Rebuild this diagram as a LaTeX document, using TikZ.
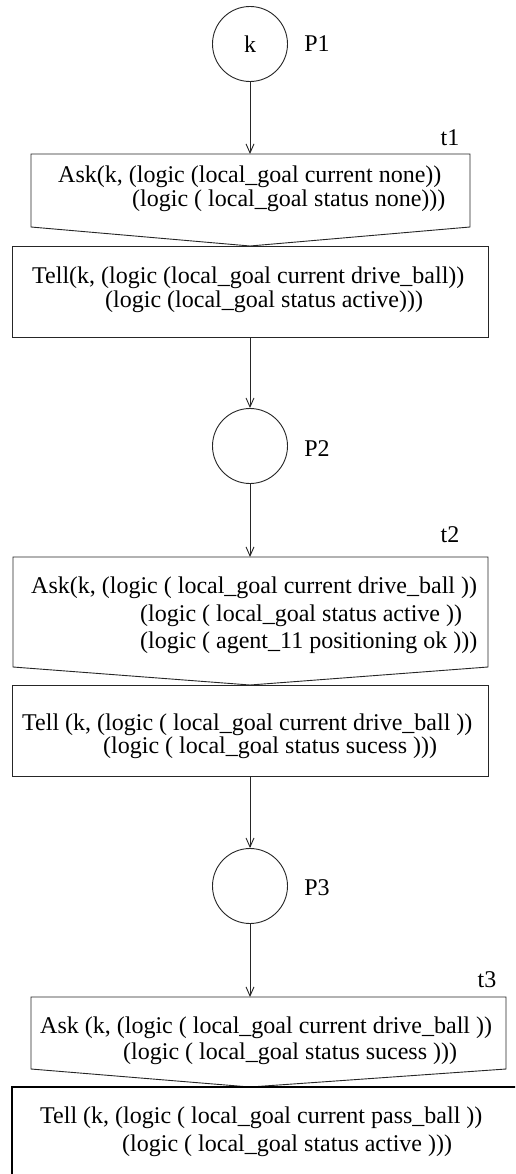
\documentclass[tikz,border=0pt]{standalone}
\usepackage{fontspec}
\setmainfont{Liberation Serif}
\usetikzlibrary{arrows.meta}
\begin{document}
\begin{tikzpicture}[x=1pt,y=-1pt,
  every node/.style={font=\fontsize{24}{28}\selectfont, inner sep=0pt},
  edge line/.style={draw=black!85, line width=0.9pt},
  place/.style={edge line, circle, minimum size=75pt},
  trans/.style={edge line, rectangle, minimum width=476pt, minimum height=91pt},
  arc/.style={edge line, -{Straight Barb[length=9pt,width=8pt]}},
  txt/.style={anchor=base west}]
\path[use as bounding box, clip] (0,0) rectangle (515,1174);
\fill[white] (0,0) rectangle (515,1174);

% P1 and t1
\node[place] (P1) at (250,44) {k};
\node (P1l) at (317,44) {P1};
\coordinate (a1nw) at (31,154);
\coordinate (a1ne) at (470,154);
\coordinate (a1sw) at (31,227);
\coordinate (a1se) at (470,227);
\coordinate (a1s) at (250,246);
\coordinate (a1n) at (250,154);
\draw[edge line] (a1nw) -- (a1ne) -- (a1se) -- (a1s) -- (a1sw) -- cycle;
\node (t1) at (450,138) {t1};
\node[txt] (a1l1) at (58,183) {Ask(k, (logic (local\_goal current none))};
\node[txt] (a1l2) at (132,207) {(logic ( local\_goal status none)))};
\node[trans] (T1) at (250,291.5) {};
\node[txt] (T1l1) at (32,283) {Tell(k, (logic (local\_goal current drive\_ball))};
\node[txt] (T1l2) at (105,307) {(logic (local\_goal status active)))};
\draw[arc] (P1) -- (a1n);

% P2 and t2
\node[place] (P2) at (250,446) {};
\node (P2l) at (317,449) {P2};
\draw[arc] (T1) -- (P2);
\coordinate (a2nw) at (13,557);
\coordinate (a2ne) at (488,557);
\coordinate (a2sw) at (13,667);
\coordinate (a2se) at (488,667);
\coordinate (a2s) at (250,685);
\coordinate (a2n) at (250,557);
\draw[edge line] (a2nw) -- (a2ne) -- (a2se) -- (a2s) -- (a2sw) -- cycle;
\draw[arc] (P2) -- (a2n);
\node (t2) at (450,535) {t2};
\node[txt] (a2l1) at (31,593) {Ask(k, (logic ( local\_goal current drive\_ball ))};
\node[txt] (a2l2) at (140,621) {(logic ( local\_goal status active ))};
\node[txt] (a2l3) at (140,648) {(logic ( agent\_11 positioning ok )))};
\node[trans] (T2) at (250,730.5) {};
\node[txt] (T2l1) at (22,730) {Tell (k, (logic ( local\_goal current drive\_ball ))};
\node[txt] (T2l2) at (103,753) {(logic ( local\_goal status sucess )))};

% P3 and t3
\node[place] (P3) at (250,886) {};
\node (P3l) at (317,888) {P3};
\draw[arc] (T2) -- (P3);
\coordinate (a3nw) at (31,997);
\coordinate (a3ne) at (506,997);
\coordinate (a3sw) at (31,1069);
\coordinate (a3se) at (506,1069);
\coordinate (a3s) at (250,1087);
\coordinate (a3n) at (250,997);
\draw[edge line] (a3nw) -- (a3ne) -- (a3se) -- (a3s) -- (a3sw) -- cycle;
\draw[arc] (P3) -- (a3n);
\node (t3) at (487,980) {t3};
\node[txt] (a3l1) at (40,1033) {Ask (k, (logic ( local\_goal current drive\_ball ))};
\node[txt] (a3l2) at (123,1059) {(logic ( local\_goal status sucess )))};
\node[edge line, draw=black, line width=1.8pt, rectangle, minimum width=518pt, minimum height=113pt] (T3) at (271,1143.5) {};
\node[txt] (T3l1) at (40,1123) {Tell (k, (logic ( local\_goal current pass\_ball ))};
\node[txt] (T3l2) at (122,1151) {(logic ( local\_goal status active )))};
\end{tikzpicture}
\end{document}
